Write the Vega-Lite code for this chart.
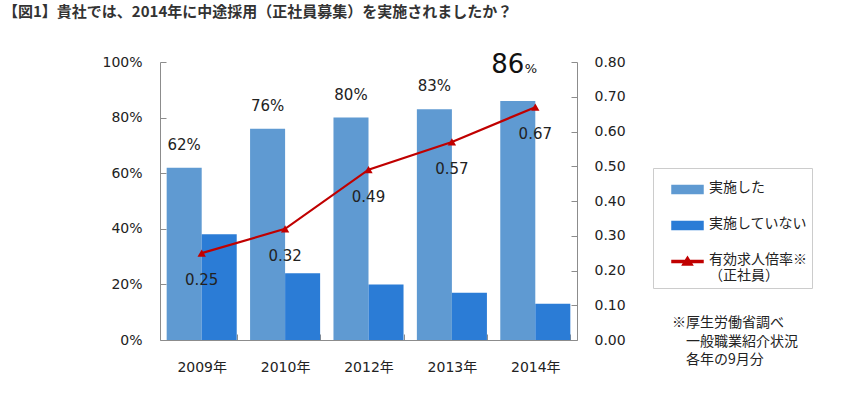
{
  "$schema": "https://vega.github.io/schema/vega-lite/v6.json",
  "width": 417,
  "height": 278,
  "autosize": {"type": "none"},
  "padding": {"left": 160, "top": 62, "right": 274, "bottom": 61},
  "background": "white",
  "title": {
    "text": "【図1】貴社では、2014年に中途採用（正社員募集）を実施されましたか？",
    "anchor": "start",
    "frame": "group",
    "dx": -157,
    "offset": 32,
    "font": "Noto Sans CJK JP",
    "fontSize": 15,
    "fontWeight": "bold",
    "color": "#333333"
  },
  "config": {
    "view": {"stroke": null},
    "font": "DejaVu Sans, Noto Sans CJK JP",
    "axis": {"grid": false, "domainColor": "#8c8c8c", "tickColor": "#8c8c8c", "labelColor": "#222222", "labelFontSize": 14, "labelFont": "DejaVu Sans, Noto Sans CJK JP", "title": null, "labelOverlap": false}
  },
  "datasets": {
    "bars": [
      {"year": "2009年", "series": "実施した", "value": 62},
      {"year": "2010年", "series": "実施した", "value": 76},
      {"year": "2012年", "series": "実施した", "value": 80},
      {"year": "2013年", "series": "実施した", "value": 83},
      {"year": "2014年", "series": "実施した", "value": 86},
      {"year": "2009年", "series": "実施していない", "value": 38},
      {"year": "2010年", "series": "実施していない", "value": 24},
      {"year": "2012年", "series": "実施していない", "value": 20},
      {"year": "2013年", "series": "実施していない", "value": 17},
      {"year": "2014年", "series": "実施していない", "value": 13}
    ],
    "ratio": [
      {"year": "2009年", "series": "有効求人倍率※|（正社員）", "ratio": 0.25},
      {"year": "2010年", "series": "有効求人倍率※|（正社員）", "ratio": 0.32},
      {"year": "2012年", "series": "有効求人倍率※|（正社員）", "ratio": 0.49},
      {"year": "2013年", "series": "有効求人倍率※|（正社員）", "ratio": 0.57},
      {"year": "2014年", "series": "有効求人倍率※|（正社員）", "ratio": 0.67}
    ]
  },
  "encoding": {
    "x": {
      "field": "year",
      "type": "nominal",
      "sort": null,
      "scale": {"paddingInner": 0.16, "paddingOuter": 0.08},
      "axis": {"labelAngle": 0, "tickBand": "extent", "tickSize": -6, "labelPadding": 26, "labelFontSize": 14}
    }
  },
  "layer": [
    {
      "layer": [
        {
          "data": {"name": "bars"},
          "mark": {"type": "bar"},
          "encoding": {
            "xOffset": {"field": "series", "type": "nominal", "sort": ["実施した", "実施していない"], "scale": {"paddingInner": 0}},
            "y": {
              "field": "value",
              "type": "quantitative",
              "scale": {"domain": [0, 100]},
              "axis": {"values": [0, 20, 40, 60, 80, 100], "labelExpr": "datum.value + '%'", "tickSize": -6, "labelPadding": 24, "orient": "left", "labelOverlap": false}
            },
            "color": {
              "field": "series",
              "type": "nominal",
              "scale": {"domain": ["実施した", "実施していない", "有効求人倍率※|（正社員）"], "range": ["#5f9ad2", "#2b7cd6", "#c00000"]},
              "legend": {
                "orient": "none",
                "legendX": 493,
                "legendY": 106,
                "title": null,
                "padding": 5,
                "strokeColor": "#cccccc",
                "fillColor": "white",
                "labelFont": "Noto Sans CJK JP",
                "labelFontSize": 14,
                "labelColor": "#222222",
                "labelOffset": 5,
                "labelExpr": "split(datum.label, '|')",
                "labelBaseline": "top",
                "labelLineHeight": 18,
                "symbolSize": 961,
                "symbolOffset": 13,
                "rowPadding": 12,
                "encode": {
                  "symbols": {
                    "update": {
                      "shape": {"signal": "datum.value === '有効求人倍率※|（正社員）' ? 'M-1,-0.06H1V0.06H-1Z M-0.32,0.22L0,-0.3L0.32,0.22Z' : 'M-1,-0.26H1V0.26H-1Z'"},
                      "fill": {"scale": "color", "field": "value"},
                      "stroke": {"value": "transparent"},
                      "opacity": {"value": 1},
                      "fillOpacity": {"value": 1}
                    }
                  },
                  "labels": {"update": {"dy": {"value": -9}}}
                }
              }
            }
          }
        },
        {
          "data": {"name": "bars"},
          "transform": [
            {"filter": "datum.series === '実施した' && datum.year !== '2014年'"},
            {"calculate": "datum.value + '%'", "as": "label"}
          ],
          "mark": {"type": "text", "baseline": "alphabetic", "dy": -18, "fontSize": 15, "font": "DejaVu Sans", "color": "#222222"},
          "encoding": {
            "xOffset": {"field": "series", "type": "nominal", "sort": ["実施した", "実施していない"], "scale": {"domain": ["実施した", "実施していない"], "paddingInner": 0}},
            "y": {"field": "value", "type": "quantitative"},
            "text": {"field": "label", "type": "nominal"}
          }
        },
        {
          "data": {"name": "bars"},
          "transform": [{"filter": "datum.series === '実施した' && datum.year === '2014年'"}],
          "mark": {"type": "text", "baseline": "alphabetic", "align": "center", "dx": -10, "dy": -28, "fontSize": 26, "font": "DejaVu Sans", "color": "#111111"},
          "encoding": {
            "xOffset": {"field": "series", "type": "nominal", "sort": ["実施した", "実施していない"], "scale": {"domain": ["実施した", "実施していない"], "paddingInner": 0}},
            "y": {"field": "value", "type": "quantitative"},
            "text": {"field": "value", "type": "quantitative", "format": "d"}
          }
        },
        {
          "data": {"name": "bars"},
          "transform": [{"filter": "datum.series === '実施した' && datum.year === '2014年'"}],
          "mark": {"type": "text", "baseline": "alphabetic", "align": "left", "dx": 7, "dy": -28, "fontSize": 13, "font": "DejaVu Sans", "color": "#111111", "text": "%"},
          "encoding": {
            "xOffset": {"field": "series", "type": "nominal", "sort": ["実施した", "実施していない"], "scale": {"domain": ["実施した", "実施していない"], "paddingInner": 0}},
            "y": {"field": "value", "type": "quantitative"}
          }
        }
      ]
    },
    {
      "data": {"name": "ratio"},
      "encoding": {
        "y": {
          "field": "ratio",
          "type": "quantitative",
          "scale": {"domain": [0, 0.8]},
          "axis": {"orient": "right", "values": [0, 0.1, 0.2, 0.3, 0.4, 0.5, 0.6, 0.7, 0.8], "format": ".2f", "tickSize": -6, "labelPadding": 23, "labelOverlap": false, "labelBound": false}
        }
      },
      "layer": [
        {
          "mark": {"type": "line", "strokeWidth": 2.2, "color": "#c00000"},
          "encoding": {
            "color": {"field": "series", "type": "nominal"}
          }
        },
        {
          "mark": {"type": "point", "shape": "triangle-up", "filled": true, "size": 70, "color": "#c00000", "opacity": 1}
        },
        {
          "mark": {"type": "text", "dy": 27, "fontSize": 15, "font": "DejaVu Sans", "color": "#222222"},
          "encoding": {
            "text": {"field": "ratio", "type": "quantitative", "format": ".2f"}
          }
        },
        {
          "mark": {"type": "point", "opacity": 0, "size": 0},
          "encoding": {
            "strokeWidth": {
              "field": "series",
              "type": "nominal",
              "scale": {"range": [0, 0]},
              "legend": {
                "orient": "none",
                "legendX": 512,
                "legendY": 254,
                "title": ["※厚生労働省調べ", "\u200b　一般職業紹介状況", "\u200b　各年の9月分"],
                "titleFont": "Noto Sans CJK JP",
                "titleFontSize": 14,
                "titleFontWeight": "normal",
                "titleColor": "#222222",
                "titleLineHeight": 18.5,
                "labelExpr": "''",
                "symbolSize": 0,
                "symbolOpacity": 0
              }
            }
          }
        }
      ]
    }
  ],
  "resolve": {"scale": {"y": "independent", "strokeWidth": "independent"}}
}
